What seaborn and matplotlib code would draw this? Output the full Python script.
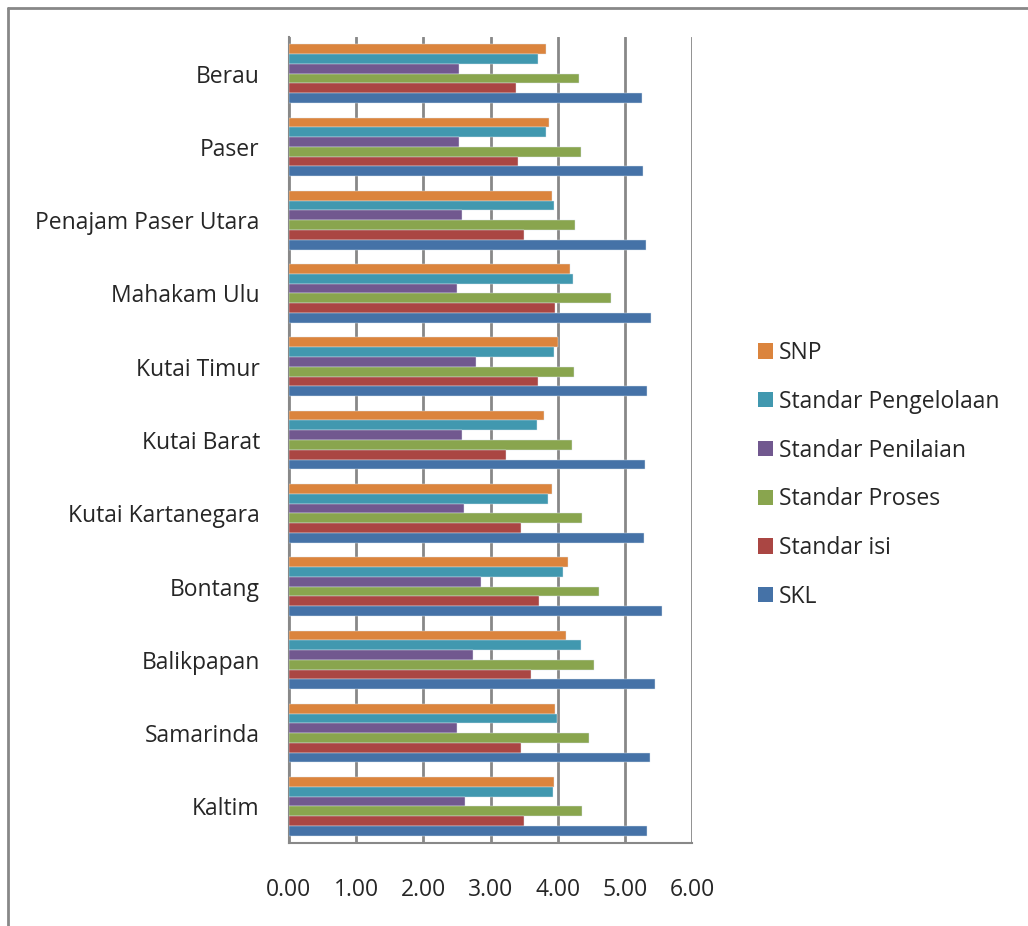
import pandas as pd
import seaborn as sns
import matplotlib.pyplot as plt
from matplotlib.lines import Line2D
from matplotlib.patches import Patch

# data (top to bottom)
kabupaten = ["Berau", "Paser", "Penajam Paser Utara", "Mahakam Ulu", "Kutai Timur",
             "Kutai Barat", "Kutai Kartanegara", "Bontang", "Balikpapan", "Samarinda", "Kaltim"]
series = ["SNP", "Standar Pengelolaan", "Standar Penilaian", "Standar Proses", "Standar isi", "SKL"]

snp = [3.83, 3.87, 3.92, 4.18, 4.01, 3.80, 3.91, 4.16, 4.13, 3.96, 3.95]
pengelolaan = [3.71, 3.83, 3.94, 4.23, 3.95, 3.69, 3.86, 4.08, 4.35, 3.99, 3.93]
penilaian = [2.53, 2.53, 2.57, 2.50, 2.79, 2.57, 2.60, 2.86, 2.74, 2.50, 2.62]
proses = [4.32, 4.34, 4.26, 4.80, 4.25, 4.21, 4.36, 4.61, 4.54, 4.46, 4.36]
isi = [3.38, 3.41, 3.50, 3.96, 3.71, 3.23, 3.45, 3.72, 3.60, 3.45, 3.50]
skl = [5.25, 5.27, 5.31, 5.39, 5.33, 5.30, 5.29, 5.55, 5.45, 5.38, 5.33]

warna = ["#db843d", "#4198af", "#71588f", "#89a54e", "#aa4643", "#4572a7"]

df = pd.DataFrame({"kabupaten": kabupaten, "SNP": snp, "Standar Pengelolaan": pengelolaan,
                   "Standar Penilaian": penilaian, "Standar Proses": proses,
                   "Standar isi": isi, "SKL": skl})
df = df.melt(id_vars="kabupaten", var_name="standar", value_name="nilai")

sns.set_style("white")
plt.rcParams["font.family"] = ["Open Sans", "DejaVu Sans"]

fig = plt.figure(figsize=(10.28, 9.26), dpi=100)
ax = fig.add_axes([0.2811, 0.0896, 0.3921, 0.8704])

sns.barplot(data=df, y="kabupaten", x="nilai", hue="standar", order=kabupaten,
            hue_order=series, palette=warna, saturation=1, orient="h", width=0.8,
            edgecolor="#dde6ee", linewidth=0.3, legend=False, ax=ax, zorder=3)

ax.set_xlim(0, 6)
ax.set_ylim(len(kabupaten) - 0.5, -0.5)
ax.set_xticks(range(7))
ax.set_xticklabels([f"{v:.2f}" for v in range(7)], fontsize=16.5)
ax.set_xlabel("")
ax.set_ylabel("")
ax.tick_params(axis="y", length=0, pad=21, labelsize=16.5)
ax.set_yticks([i - 0.5 for i in range(len(kabupaten) + 1)], minor=True)
ax.tick_params(axis="y", which="minor", length=8, width=1.5, color="#888888")
ax.tick_params(axis="x", length=8, width=1.5, color="#888888", pad=17)
ax.grid(axis="x", color="#888888", linewidth=2, zorder=0)
ax.set_axisbelow(True)
for s in ["top", "right"]:
    ax.spines[s].set_visible(False)
for s in ["left", "bottom"]:
    ax.spines[s].set_color("#888888")
    ax.spines[s].set_linewidth(1.5)

handles = [Patch(facecolor=c, edgecolor="none") for c in warna]
fig.legend(handles, series, loc="upper left", bbox_to_anchor=(0.717, 0.654),
           frameon=False, fontsize=16.5, handlelength=0.65, handleheight=0.65,
           handletextpad=0.26, labelspacing=1.08)

# frame around the chart
fig.add_artist(Line2D([0.008, 0.008], [0.0, 0.991], color="#888888", linewidth=2))
fig.add_artist(Line2D([0.008, 1.0], [0.991, 0.991], color="#888888", linewidth=2))

fig.savefig("out.png", dpi=100)
